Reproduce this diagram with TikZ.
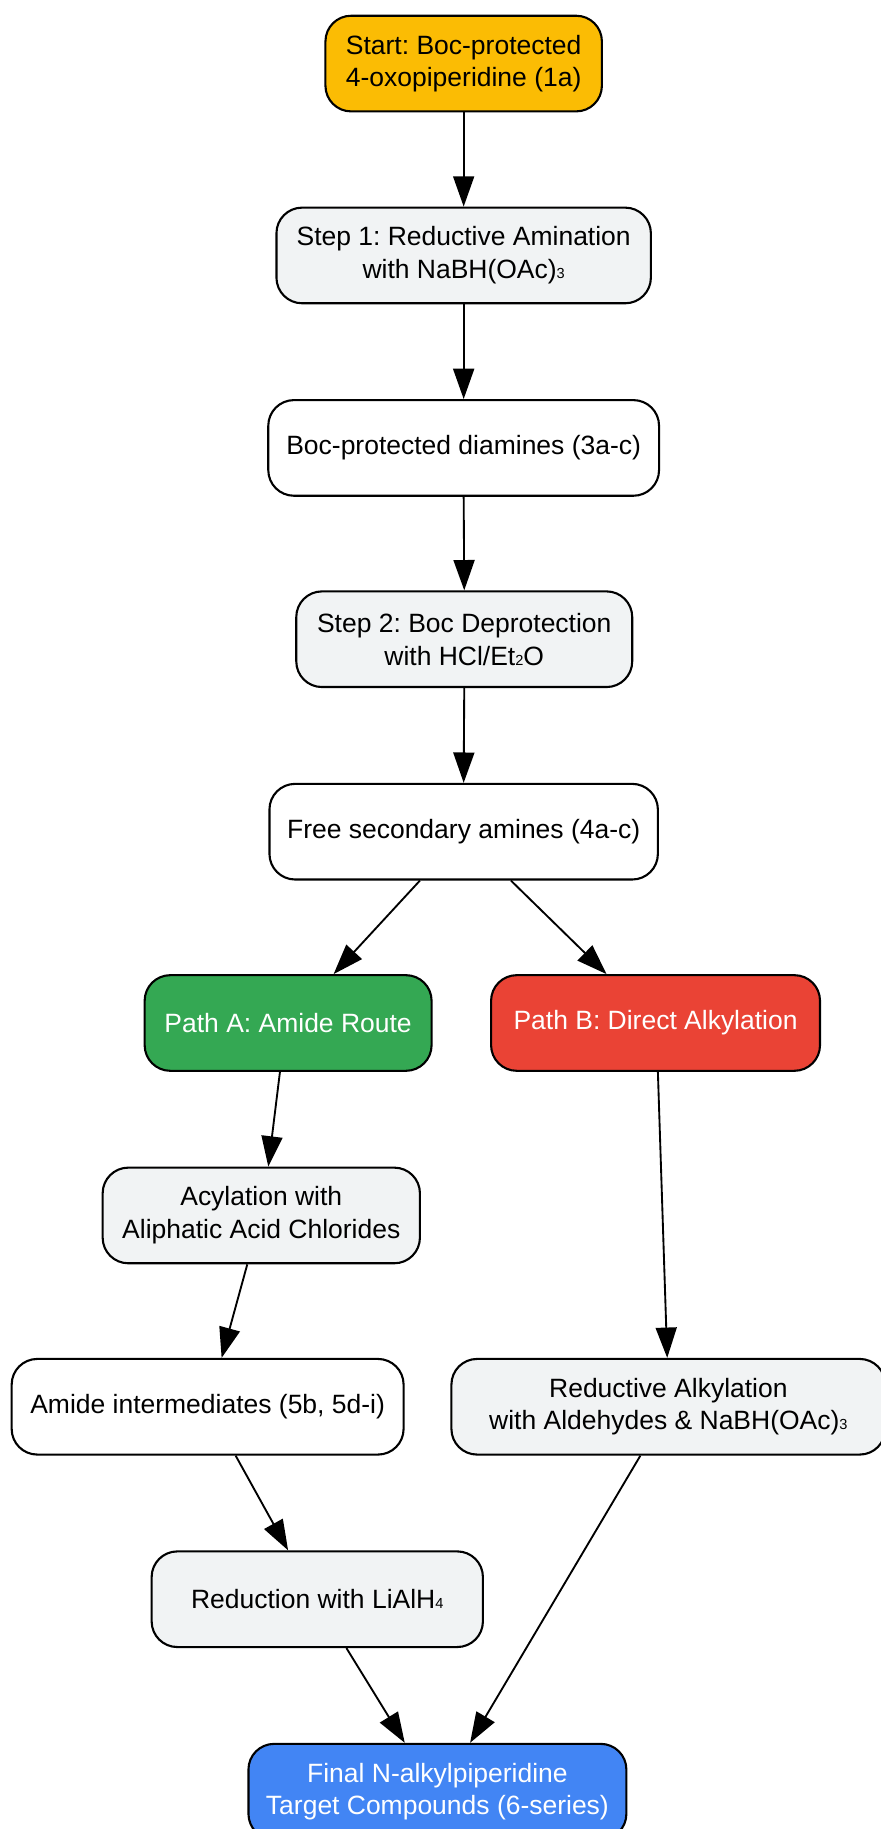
\documentclass[tikz,border=0pt]{standalone}
\usepackage{fontspec}
\setmainfont{Liberation Sans}
\usetikzlibrary{arrows.meta}
\definecolor{cyellow}{HTML}{FBBC04}
\definecolor{cgrey}{HTML}{F1F3F4}
\definecolor{cgreen}{HTML}{34A853}
\definecolor{cred}{HTML}{EA4335}
\definecolor{cblue}{HTML}{4285F4}
\newcommand{\sbs}[1]{{\fontsize{12.5}{12.5}\selectfont #1}}
\frenchspacing
\begin{document}
\begin{tikzpicture}[x=1pt,y=-1pt,
  box/.style={draw=black, line width=1.8pt, rounded corners=22pt, align=center, inner sep=0pt,
    font=\fontsize{22.7}{28}\selectfont\frenchspacing, minimum height=82pt},
  conn/.style={line width=1.6pt, -{Triangle[length=26pt,width=18pt]}}]
\fill[white] (0,0) rectangle (755,1568);
\useasboundingbox (0,0) rectangle (755,1568);
\node[box, fill=cyellow, minimum width=237pt] (start) at (397.5,54.5) {Start: Boc-protected\\4-oxopiperidine (1a)};
\node[box, fill=cgrey, minimum width=321pt] (s1) at (397.5,219) {Step 1: Reductive Amination\\with NaBH(OAc)\sbs{3}};
\node[box, fill=white, minimum width=335pt] (boc) at (397.5,384) {Boc-protected diamines (3a-c)};
\node[box, fill=cgrey, minimum width=288pt] (s2) at (398,548) {Step 2: Boc Deprotection\\with HCl/Et\sbs{2}O};
\node[box, fill=white, minimum width=333pt] (free) at (397.5,713) {Free secondary amines (4a-c)};
\node[box, fill=cgreen, text=white, minimum width=246pt] (pa) at (247,877) {Path A: Amide Route};
\node[box, fill=cred, text=white, minimum width=282pt] (pb) at (562,877) {Path B: Direct Alkylation};
\node[box, fill=cgrey, minimum width=272pt] (acyl) at (224,1042) {Acylation with\\Aliphatic Acid Chlorides};
\node[box, fill=white, minimum width=336pt] (amide) at (178,1206) {Amide intermediates (5b, 5d-i)};
\node[box, fill=cgrey, minimum width=372pt] (redalk) at (573,1206) {Reductive Alkylation\\with Aldehydes \& NaBH(OAc)\sbs{3}};
\node[box, fill=cgrey, minimum width=284pt] (red) at (272,1371) {Reduction with LiAlH\sbs{4}};
\node[box, fill=cblue, text=white, minimum width=324pt] (final) at (375,1536) {Final N-alkylpiperidine\\Target Compounds (6-series)};
\draw[conn] (start.south) -- (s1.north);
\draw[conn] (s1.south) -- (boc.north);
\draw[conn] (boc.south) -- (s2.north);
\draw[conn] (s2.south) -- (free.north);
\draw[conn] ([xshift=-37.5pt]free.south) -- ([xshift=39pt]pa.north);
\draw[conn] ([xshift=40.5pt]free.south) -- ([xshift=-42pt]pb.north);
\draw[conn] ([xshift=-7pt]pa.south) -- ([xshift=6pt]acyl.north);
\draw[conn] ([xshift=-12pt]acyl.south) -- ([xshift=12pt]amide.north);
\draw[conn] ([xshift=2pt]pb.south) -- ([xshift=-1pt]redalk.north);
\draw[conn] ([xshift=24pt]amide.south) -- ([xshift=-25pt]red.north);
\draw[conn] ([xshift=25pt]red.south) -- ([xshift=-28pt]final.north);
\draw[conn] ([xshift=-24pt]redalk.south) -- ([xshift=28pt]final.north);
\end{tikzpicture}
\end{document}
